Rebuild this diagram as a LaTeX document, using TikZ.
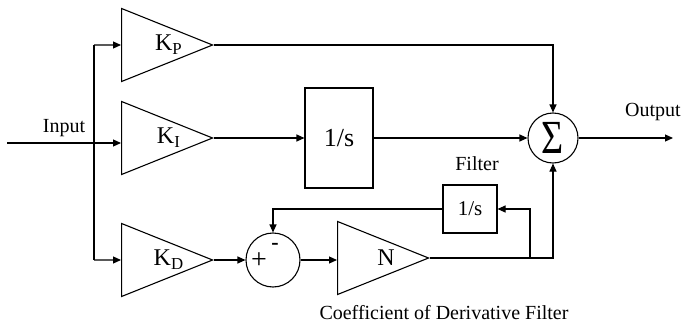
\documentclass[tikz,border=0pt]{standalone}
\usepackage{fontspec}
\setmainfont{Liberation Serif}
\usetikzlibrary{arrows.meta, shapes.geometric}

% label shifted right inside a gain triangle, without growing it
\newcommand{\gainlbl}[1]{\makebox[0pt]{\hspace*{58pt}#1}}

\begin{document}
\begin{tikzpicture}[
    x=1pt, y=-1pt,
    line width=1.1pt,
    every node/.style={font=\fontsize{20}{24}\selectfont},
    amp/.style={draw, isosceles triangle, isosceles triangle stretches, inner sep=0pt, minimum width=73pt, minimum height=91pt, anchor=east, font=\fontsize{24}{26}\selectfont},
    blk/.style={draw, rectangle, inner sep=0pt},
    sumc/.style={draw, circle, inner sep=0pt, minimum size=#1},
    arr/.style={-{Triangle[length=8pt, width=7pt]}}
]
    \useasboundingbox (0,0) rectangle (686,324);

    % Gains
    \node[amp] (kP) at (214,45) {\gainlbl{K\textsubscript{P}}};
    \node[amp] (kI) at (214,138) {\gainlbl{K\textsubscript{I}}};
    \node[amp] (kD) at (214,260) {\gainlbl{K\textsubscript{D}}};
    \node[amp] (kN) at (430,258) {\gainlbl{N}};

    % Blocks
    \node[blk, minimum width=68pt, minimum height=100pt, font=\fontsize{26}{28}\selectfont] (int) at (339,138) {1/s};
    \node[blk, minimum width=54pt, minimum height=48pt, font=\fontsize{21}{24}\selectfont] (filt) at (470,209) {1/s};
    \node[sumc=50pt] (sum) at (553,138) {\scalebox{1}[1.25]{\fontsize{38}{38}\selectfont Σ}};
    \node[sumc=54pt] (sub) at (273,260) {};
    \node[font=\fontsize{28}{28}\selectfont] at (259,261) {+};
    \node[font=\fontsize{22}{24}\selectfont\bfseries] at (275,246) {-};

    % Labels
    \node[anchor=base] (inlab) at (64,132) {Input};
    \node[anchor=base] (outlab) at (653,116) {Output};
    \node[anchor=base] (filtlab) at (477,170) {Filter};
    \node[anchor=base] (coeflab) at (444,319) {Coefficient of Derivative Filter};

    % Input and branches
    \coordinate (in) at (7,143);
    \coordinate (brt) at (94,45);
    \coordinate (brb) at (94,260);
    \draw[arr] (in) -- (in -| kI.west);
    \draw (brt) -- (brb);
    \draw[arr] (brt) -- (kP.west);
    \draw[arr] (brb) -- (kD.west);

    % Forward paths
    \draw[arr] (kI.east) -- (int.west);
    \draw[arr] (int.east) -- (sum.west);
    \draw[arr] (kP.east) -| (sum.north);
    \coordinate (out) at (673,138);
    \draw[arr] (sum.east) -- (out);

    % Derivative path with filter
    \draw[arr] (kD.east) -- (sub.west);
    \draw[arr] (sub.east) -- (sub.east -| kN.west);
    \draw[arr] (kN.east) -| (sum.south);
    \coordinate (tap) at (530,258);
    \draw[arr] (tap) |- (filt.east);
    \draw[arr] (filt.west) -| (sub.north);

\end{tikzpicture}
\end{document}
